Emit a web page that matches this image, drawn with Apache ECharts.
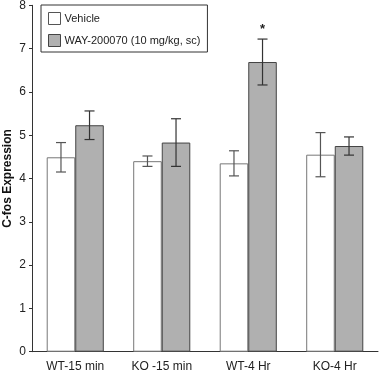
<!DOCTYPE html>
<html>
<head>
<meta charset="utf-8">
<script src="https://cdn.jsdelivr.net/npm/echarts@6/dist/echarts.min.js"></script>
<style>
html,body{margin:0;padding:0;background:#fff;}
#main{width:379px;height:375px;}
</style>
</head>
<body>
<div id="main"></div>
<script>
var categories = ['WT-15 min', 'KO -15 min', 'WT-4 Hr', 'KO-4 Hr'];
var vehicle = [4.49, 4.40, 4.35, 4.55];
var vehicleErr = [0.34, 0.12, 0.29, 0.51];
var way = [5.23, 4.83, 6.69, 4.75];
var wayErr = [0.33, 0.55, 0.53, 0.21];
var waySig = [false, false, true, false];
var yTicks = [0, 1, 2, 3, 4, 5, 6, 7, 8];

var gapRatio = 0.34;

function errBars(vals, errs, side, color, sig) {
  return {
    type: 'custom',
    silent: true,
    z: 5,
    data: vals.map(function (v, i) { return [i, v, errs[i]]; }),
    renderItem: function (params, api) {
      var i = api.value(0), v = api.value(1), e = api.value(2);
      var catW = api.size([1, 0])[0];
      var barW = catW * (1 - gapRatio) / 2;
      var top = api.coord([i, v + e]);
      var bot = api.coord([i, v - e]);
      var x = top[0] + side * barW / 2;
      var cap = 5;
      var st = { stroke: color, lineWidth: 1.2 };
      var kids = [
        { type: 'line', shape: { x1: x, y1: top[1], x2: x, y2: bot[1] }, style: st },
        { type: 'line', shape: { x1: x - cap, y1: top[1], x2: x + cap, y2: top[1] }, style: st },
        { type: 'line', shape: { x1: x - cap, y1: bot[1], x2: x + cap, y2: bot[1] }, style: st }
      ];
      if (sig && sig[params.dataIndex]) {
        kids.push({ type: 'text', style: { text: '*', x: x, y: top[1] - 3, align: 'center', verticalAlign: 'bottom', font: 'bold 13px Liberation Sans', fill: '#222' } });
      }
      return { type: 'group', children: kids };
    }
  };
}

var chart = echarts.init(document.getElementById('main'));
chart.setOption({
  animation: false,
  textStyle: { fontFamily: 'Liberation Sans, Arial, sans-serif' },
  grid: { left: 32, right: 1, top: 5.3, bottom: 23.3, containLabel: false, outerBoundsMode: 'none' },
  legend: {
    orient: 'vertical',
    left: 41, top: 5,
    padding: [7, 7, 5, 7],
    itemGap: 9,
    itemWidth: 12, itemHeight: 12,
    borderColor: '#333', borderWidth: 1,
    backgroundColor: '#fff',
    textStyle: { fontSize: 11, color: '#222', padding: [0, 0, 0, -1] },
    data: [
      { name: 'Vehicle', icon: 'rect', itemStyle: { color: '#fff', borderColor: '#555', borderWidth: 1 } },
      { name: 'WAY-200070 (10 mg/kg, sc)', icon: 'rect', itemStyle: { color: '#b0b0b0', borderColor: '#444', borderWidth: 1 } }
    ]
  },
  xAxis: {
    type: 'category',
    data: categories,
    axisLine: { lineStyle: { color: '#333', width: 1 } },
    axisTick: { length: 6, lineStyle: { color: '#333' } },
    axisLabel: { fontSize: 12, color: '#222', margin: 9 }
  },
  yAxis: {
    type: 'value',
    min: yTicks[0], max: yTicks[yTicks.length - 1], interval: 1,
    name: 'C-fos Expression',
    nameLocation: 'middle',
    nameGap: 18,
    nameMoveOverlap: false,
    nameTextStyle: { fontSize: 12, fontWeight: 'bold', color: '#111' },
    axisLine: { show: true, lineStyle: { color: '#333', width: 1 } },
    axisTick: { show: true, length: 3, lineStyle: { color: '#333' } },
    axisLabel: { fontSize: 12, color: '#222', margin: 6 },
    splitLine: { show: false }
  },
  series: [
    {
      name: 'Vehicle', type: 'bar', data: vehicle,
      barGap: '0%', barCategoryGap: (gapRatio * 100) + '%',
      itemStyle: { color: '#fff', borderColor: '#777', borderWidth: 1 }
    },
    {
      name: 'WAY-200070 (10 mg/kg, sc)', type: 'bar', data: way,
      itemStyle: { color: '#b0b0b0', borderColor: '#444', borderWidth: 1 }
    },
    errBars(vehicle, vehicleErr, -1, '#555'),
    errBars(way, wayErr, 1, '#333', waySig)
  ]
});
</script>
</body>
</html>
